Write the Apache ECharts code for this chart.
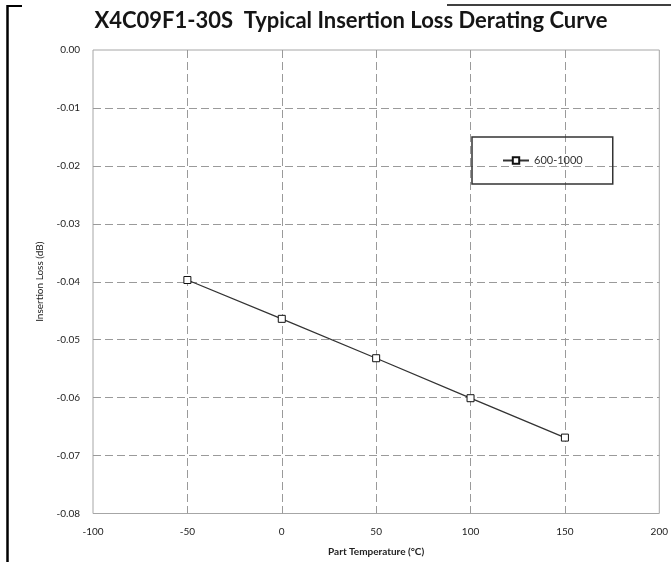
<!DOCTYPE html>
<html>
<head>
<meta charset="utf-8">
<script src="https://cdn.jsdelivr.net/npm/echarts@6/dist/echarts.min.js"></script>
<style>
html,body{margin:0;padding:0;background:#fff;}
#chart{width:671px;height:562px;}
</style>
</head>
<body>
<div id="chart"></div>
<script>
const titleText = 'X4C09F1-30S  Typical Insertion Loss Derating Curve';
const seriesName = '600-1000';
const temperatures = [-50, 0, 50, 100, 150];
const insertionLoss = [-0.0397, -0.0464, -0.0532, -0.0601, -0.0669];
const xTicks = [-100, -50, 0, 50, 100, 150, 200];
const yTicks = [0.00, -0.01, -0.02, -0.03, -0.04, -0.05, -0.06, -0.07, -0.08];

const FONT = 'Lato, "Open Sans", sans-serif';
const chart = echarts.init(document.getElementById('chart'));
chart.setOption({
  animation: false,
  backgroundColor: '#fff',
  title: {
    text: titleText,
    left: 346, top: 5, textAlign: 'center',
    textStyle: {fontFamily: FONT, fontWeight: 'bold', fontSize: 22, color: '#151515'}
  },
  graphic: [
    {type: 'line', shape: {x1: 7.5, y1: 5, x2: 7.5, y2: 562}, style: {stroke: '#000', lineWidth: 2.5}},
    {type: 'line', shape: {x1: 7, y1: 6, x2: 22, y2: 6}, style: {stroke: '#000', lineWidth: 2}},
    {type: 'line', shape: {x1: 447, y1: 5, x2: 671, y2: 5}, style: {stroke: '#000', lineWidth: 1.5}}
  ],
  legend: {
    left: 472, top: 137,
    padding: [18, 30, 18, 30],
    borderColor: '#333', borderWidth: 1.5,
    itemWidth: 26, itemHeight: 8, itemGap: 5,
    textStyle: {fontFamily: FONT, fontSize: 11, color: '#333'},
    data: [seriesName]
  },
  grid: {
    left: 93, right: 11, top: 50, bottom: 48.5,
    show: true, borderColor: '#a6a6a6', borderWidth: 1
  },
  xAxis: {
    type: 'value', min: xTicks[0], max: xTicks[xTicks.length - 1], interval: 50,
    name: 'Part Temperature (°C)', nameLocation: 'middle', nameGap: 33,
    nameTextStyle: {fontFamily: FONT, fontWeight: 'bold', fontSize: 10, color: '#222'},
    axisLine: {show: false}, axisTick: {show: false},
    axisLabel: {fontFamily: FONT, fontSize: 10, color: '#222', margin: 13},
    splitLine: {show: true, showMinLine: false, showMaxLine: false,
      lineStyle: {color: '#9a9a9a', type: [8, 4], width: 1}}
  },
  yAxis: {
    type: 'value', min: yTicks[yTicks.length - 1], max: yTicks[0], interval: 0.01,
    name: 'Insertion Loss (dB)', nameLocation: 'middle', nameGap: 48,
    nameTextStyle: {fontFamily: FONT, fontSize: 10, color: '#222'},
    axisLine: {show: false}, axisTick: {show: false},
    axisLabel: {fontFamily: FONT, fontSize: 10, color: '#222', margin: 13,
      formatter: v => v.toFixed(2)},
    splitLine: {show: true, showMinLine: false, showMaxLine: false,
      lineStyle: {color: '#9a9a9a', type: [8, 4], width: 1}}
  },
  series: [{
    name: seriesName, type: 'line',
    data: temperatures.map((t, i) => [t, insertionLoss[i]]),
    symbol: 'rect', symbolSize: 7,
    itemStyle: {color: '#fff', borderColor: '#111', borderWidth: 1},
    lineStyle: {color: '#333', width: 1.3}
  }]
});
</script>
</body>
</html>
